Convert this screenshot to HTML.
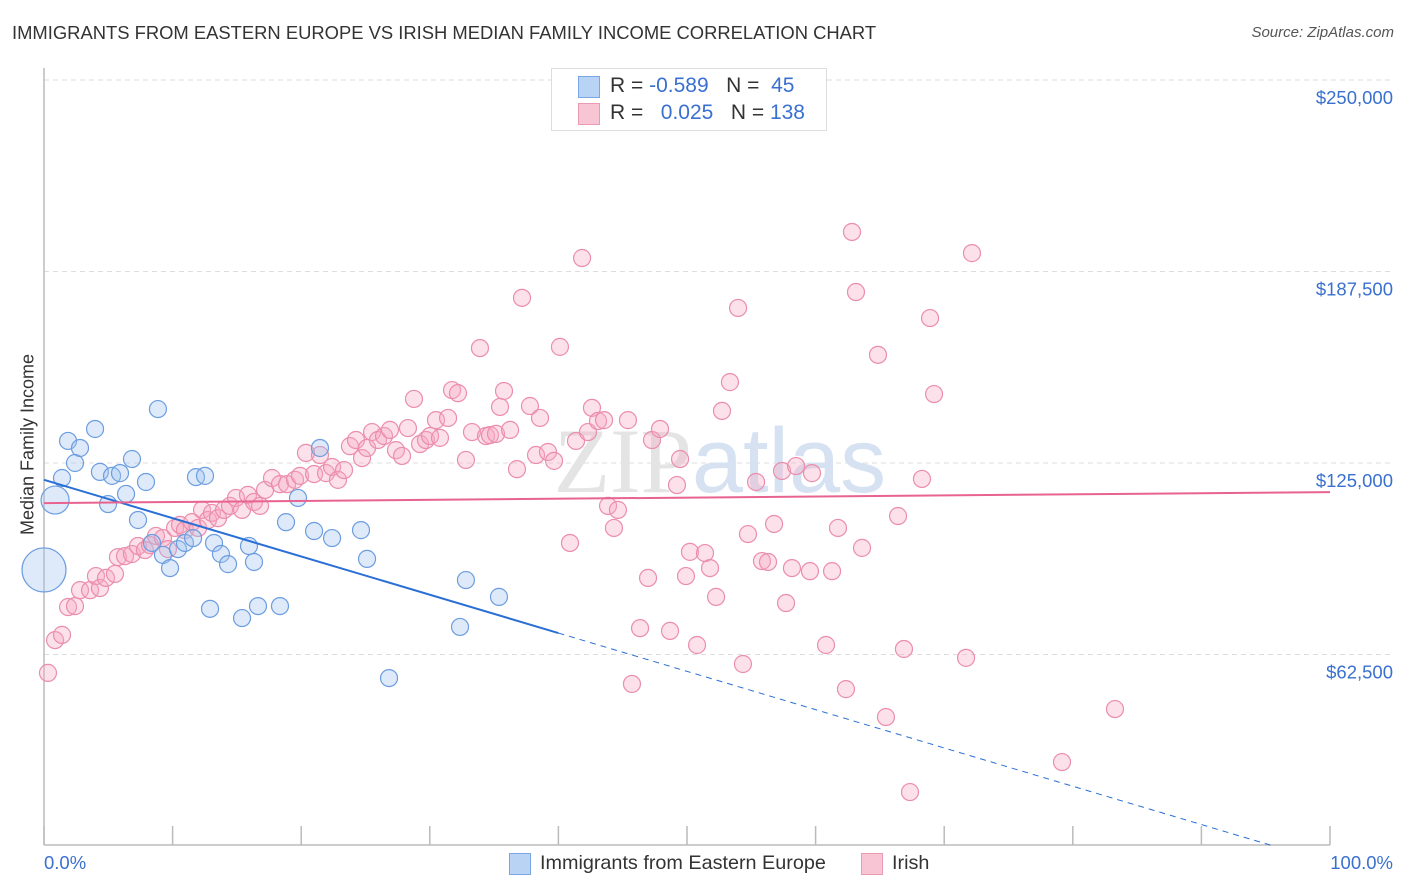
<!DOCTYPE html>
<html><head><meta charset="utf-8"><style>
body{margin:0;background:#fff;font-family:"Liberation Sans",sans-serif;}
#wrap{position:relative;width:1406px;height:892px;overflow:hidden;}
.t{position:absolute;white-space:nowrap;}
</style></head><body>
<div id="wrap">
<div class="t" style="left:12px;top:22px;font-size:18.4px;color:#333;">IMMIGRANTS FROM EASTERN EUROPE VS IRISH MEDIAN FAMILY INCOME CORRELATION CHART</div>
<div class="t" style="right:12px;top:24px;font-size:15px;color:#555;font-style:italic;">Source: ZipAtlas.com</div>
<svg id="chart" width="1406" height="892" style="position:absolute;left:0;top:0"></svg>
</div>
<script>
const yTicks=[62500,125000,187500,250000];
const yTickLabels=["$62,500","$125,000","$187,500","$250,000"];
const xTicks=[0,10,20,30,40,50,60,70,80,90,100];
const blueX=[0,0.86,1.87,1.40,2.41,2.80,3.97,4.35,5.29,5.91,4.98,6.38,6.84,7.93,8.86,7.31,8.40,9.25,9.80,10.42,10.96,11.59,11.82,12.52,13.22,13.76,14.31,15.94,16.33,12.91,15.40,16.64,18.35,18.82,19.75,21.00,21.46,22.40,24.65,25.12,26.83,32.35,32.81,35.38];
const blueY=[90.1,112.9,132.2,120.1,125,129.9,136.1,122.1,120.8,121.7,111.6,114.9,126.3,118.8,142.6,106.4,98.9,95.0,90.7,96.9,98.9,100.5,120.4,120.8,98.9,95.3,92.0,97.9,92.7,77.4,74.4,78.3,78.3,105.7,113.6,102.8,129.9,100.5,103.1,93.7,54.8,71.5,86.8,81.3];
const blueR=[22,14];
const pinkX=[0.31,0.86,1.40,1.87,2.41,2.80,3.58,4.04,4.35,4.82,5.52,5.75,6.30,6.84,7.31,7.85,8.24,8.71,9.25,9.64,10.19,10.58,10.96,11.51,11.98,12.29,12.75,13.06,13.53,14.00,14.46,14.93,15.40,15.86,16.33,16.80,17.19,17.73,18.35,18.90,19.52,19.91,20.37,21.00,21.46,21.93,22.40,22.86,23.33,23.79,24.26,24.73,25.12,25.51,25.97,26.44,26.90,27.37,27.84,28.30,28.77,29.24,29.70,30.02,30.48,30.79,31.42,31.73,32.19,32.81,33.28,33.90,34.37,34.68,35.15,35.46,35.77,36.24,36.78,37.17,37.79,38.26,38.57,39.19,39.66,40.12,40.90,41.37,41.84,42.30,42.61,43.08,43.55,43.86,44.32,44.63,45.41,45.72,46.35,46.97,47.28,47.90,48.68,49.22,49.46,49.92,50.23,50.78,51.40,51.79,52.26,52.72,53.34,53.97,54.35,54.74,55.37,55.83,56.30,56.77,57.39,57.70,58.16,58.48,59.56,59.72,60.81,61.28,61.74,62.36,62.83,63.14,63.61,64.85,65.47,66.41,66.87,67.34,68.27,68.90,69.21,71.70,72.16,79.16,83.28];
const pinkY=[56.5,67.2,68.9,78.0,78.3,83.5,83.5,88.1,84.2,87.5,88.8,94.3,94.6,95.3,97.9,96.6,98.2,101.2,100.5,96.9,103.8,104.8,103.1,105.7,103.8,109.7,106.4,108.7,107.0,109.7,111.0,113.6,109.7,114.6,112.3,111.0,116.2,120.1,118.1,118.1,119.5,120.8,128.3,121.4,127.6,121.7,123.7,119.5,122.7,130.5,132.5,126.6,129.9,135.1,132.5,133.8,135.8,129.2,127.3,136.4,145.9,131.2,132.5,133.8,139.0,133.2,139.7,148.8,147.8,126.0,135.1,162.5,133.8,134.1,134.5,143.3,148.5,135.8,123.0,178.9,143.6,127.6,139.7,128.6,125.7,162.9,98.9,132.2,191.9,135.1,143.0,138.7,139.0,111.0,103.8,109.7,139.0,52.9,71.1,87.5,132.5,136.1,70.2,117.8,126.3,88.1,96.0,65.6,95.6,90.7,81.3,142.0,151.4,175.6,59.4,101.8,118.8,93.0,92.7,105.1,122.4,79.3,90.7,124.0,89.7,121.7,65.6,89.7,103.8,51.2,200.4,180.8,97.3,160.3,42.1,107.7,64.3,17.6,119.8,172.3,147.5,61.4,193.5,27.4,44.7];
const blueTrend=[119.5,-1.25];
const pinkTrend=[111.9,0.036];
const NS="http://www.w3.org/2000/svg";
const svg=document.getElementById('chart');
const X=p=>44+p*12.86;
const Y=k=>846-k*1000*191.5/62500;
function mk(tag,at,parent){const e=document.createElementNS(NS,tag);for(const k in at)e.setAttribute(k,at[k]);(parent||svg).appendChild(e);return e;}
yTicks.forEach((v,i)=>{
 const g=mk('line',{x1:44,x2:1393,y1:Y(v/1000),y2:Y(v/1000),stroke:'#ddd','stroke-dasharray':'5,4'});
 
 
 const t=mk('text',{x:1393,y:Y(v/1000)+24,'text-anchor':'end','font-size':18.5,fill:'#3a70cf','font-family':'Liberation Sans'});
 t.textContent=yTickLabels[i];
 
 
});
const ax=mk('line',{x1:44,x2:44,y1:68,y2:845,stroke:'#bbb','stroke-width':1.5});


const bx=mk('line',{x1:44,x2:1330,y1:845,y2:845,stroke:'#bbb','stroke-width':1.5});


xTicks.forEach(p=>{const l=mk('line',{x1:X(p),x2:X(p),y1:826,y2:845,stroke:'#bbb','stroke-width':1.5});
 
 });
const wm=mk('text',{x:720,y:492,'text-anchor':'middle','font-size':92,fill:'#e4e4e4','font-family':'Liberation Serif'});
wm.innerHTML='ZIP<tspan fill="#d6e2f2" font-family="Liberation Sans">atlas</tspan>';


pinkX.forEach((x,i)=>{const c=mk('circle',{cx:X(x),cy:Y(pinkY[i]),r:8.5,fill:'rgba(245,170,195,0.35)',stroke:'#eb8dab','stroke-width':1.2});
 
 });
blueX.forEach((x,i)=>{const c=mk('circle',{cx:X(x),cy:Y(blueY[i]),r:blueR[i]||8.5,fill:'rgba(160,195,238,0.35)',stroke:'#6c9de0','stroke-width':1.2});
 
 });
const bEnd=40,bZero=-blueTrend[0]/blueTrend[1];
const l1=mk('line',{x1:X(0),y1:Y(blueTrend[0]),x2:X(bEnd),y2:Y(blueTrend[0]+blueTrend[1]*bEnd),stroke:'#2a6fd6','stroke-width':2});


const l2=mk('line',{x1:X(bEnd),y1:Y(blueTrend[0]+blueTrend[1]*bEnd),x2:X(bZero),y2:Y(0),stroke:'#2a6fd6','stroke-width':1,'stroke-dasharray':'6,5'});


const l3=mk('line',{x1:X(0),y1:Y(pinkTrend[0]),x2:X(100),y2:Y(pinkTrend[0]+pinkTrend[1]*100),stroke:'#e8638f','stroke-width':2});


</script>
<div class="t" style="left:8px;top:455px;transform:translate(0,-50%) rotate(-90deg);transform-origin:center;font-size:18px;color:#333;width:40px;text-align:center;"><span style="display:inline-block;margin-left:-60px;width:160px">Median Family Income</span></div>
<div class="t" style="left:44px;top:852px;font-size:18.5px;color:#3a70cf">0.0%</div>
<div class="t" style="right:13px;top:852px;font-size:18.5px;color:#3a70cf">100.0%</div>
<div class="t" style="left:551px;top:68px;width:274px;height:61px;border:1px solid #ddd;background:#fff;">
 <div class="t" style="left:26px;top:7px;width:20px;height:20px;background:#b9d3f5;border:1px solid #7aa6e6"></div>
 <div class="t" style="left:58px;top:5px;font-size:21px;color:#333">R = <span style="color:#3a70cf">-0.589</span>&nbsp;&nbsp;&nbsp;N = &nbsp;<span style="color:#3a70cf">45</span></div>
 <div class="t" style="left:26px;top:34px;width:20px;height:20px;background:#f8c5d4;border:1px solid #eb9ab4"></div>
 <div class="t" style="left:58px;top:32px;font-size:21px;color:#333">R = &nbsp;&nbsp;<span style="color:#3a70cf">0.025</span>&nbsp;&nbsp;&nbsp;N = <span style="color:#3a70cf">138</span></div>
</div>
<div class="t" style="left:509px;top:853px;width:20px;height:20px;background:#b9d3f5;border:1px solid #7aa6e6"></div>
<div class="t" style="left:540px;top:852px;font-size:19.8px;color:#333">Immigrants from Eastern Europe</div>
<div class="t" style="left:861px;top:853px;width:20px;height:20px;background:#f8c5d4;border:1px solid #eb9ab4"></div>
<div class="t" style="left:892px;top:852px;font-size:19.8px;color:#333">Irish</div>
</body></html>
